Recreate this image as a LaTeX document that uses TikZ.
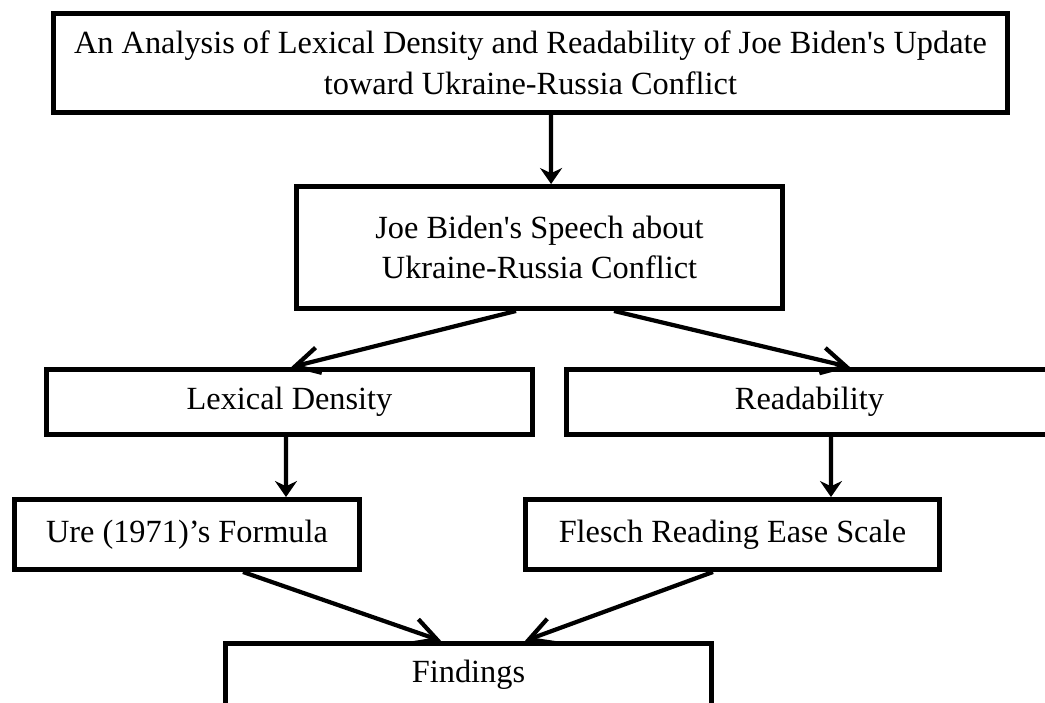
\documentclass[tikz,border=0pt]{standalone}
\usepackage{fontspec}
\setmainfont{Liberation Serif}
\usetikzlibrary{arrows.meta}

\begin{document}
\begin{tikzpicture}[font=\fontsize{23}{29}\selectfont,
    box/.style={draw, line width=3.8pt, align=center, inner sep=0pt},
    link/.style={line width=3pt, -{Straight Barb[length=6mm,width=6.5mm]}},
    down/.style={line width=3pt, -{Stealth[length=4mm,width=5.5mm]}}]
    \useasboundingbox (0,0) rectangle (26.125,-17.55);
    % boxes
    \node[box, minimum width=23.84cm, minimum height=2.46cm] (title) at (13.2625,-1.575)
        {An Analysis of Lexical Density and Readability of Joe Biden\textquotesingle s Update\\toward Ukraine-Russia Conflict};
    \node[box, minimum width=12.14cm, minimum height=3.04cm] (speech) at (13.4875,-6.1875)
        {Joe Biden\textquotesingle s Speech about\\Ukraine-Russia Conflict};
    \node[box, minimum width=12.14cm, minimum height=1.61cm] (lex) at (7.2375,-10.05) {Lexical Density};
    \node[box, minimum width=12.14cm, minimum height=1.61cm] (read) at (20.2375,-10.05) {Readability};
    \node[box, minimum width=8.61cm, minimum height=1.74cm] (ure) at (4.675,-13.3625) {Ure (1971)'s Formula};
    \node[box, minimum width=10.34cm, minimum height=1.74cm] (flesch) at (18.3125,-13.3625) {Flesch Reading Ease Scale};
    \node[box, minimum width=12.14cm, minimum height=2cm, anchor=north] (findings) at (11.7125,-16.02)
        {\raisebox{0.22cm}[\height][\depth]{Findings}};
    % arrows
    \draw[down] ([xshift=0.5125cm]title.south) -- ([xshift=0.29cm]speech.north);
    \draw[link] ([xshift=-0.5875cm]speech.south) -- ([xshift=0.04cm]lex.north);
    \draw[link] ([xshift=1.8625cm]speech.south) -- ([xshift=1.0125cm]read.north);
    \draw[down] ([xshift=-0.0875cm]lex.south) -- ([xshift=2.475cm]ure.north);
    \draw[down] ([xshift=0.5375cm]read.south) -- ([xshift=2.4625cm]flesch.north);
    \draw[link] ([xshift=1.4cm]ure.south) -- ([xshift=-0.6875cm]findings.north);
    \draw[link] ([xshift=-0.4875cm]flesch.south) -- ([xshift=1.4125cm]findings.north);
\end{tikzpicture}
\end{document}
